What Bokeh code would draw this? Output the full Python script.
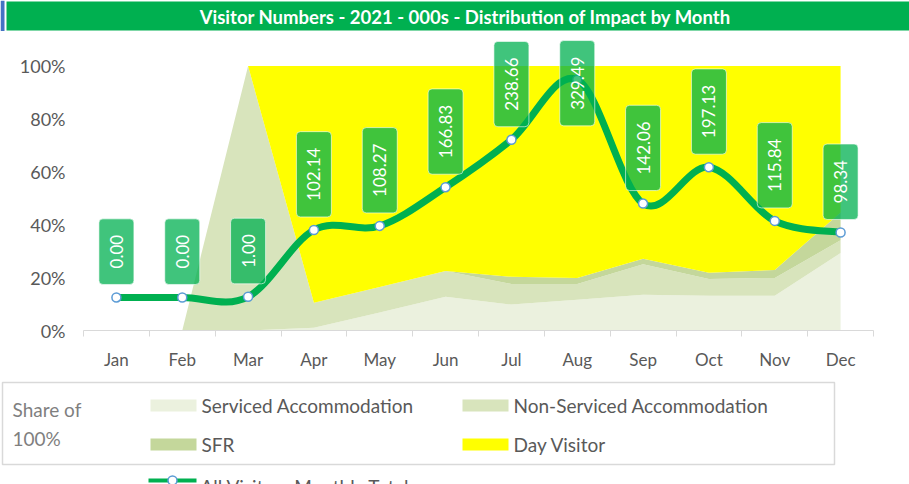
import numpy as np
from bokeh.plotting import figure
from bokeh.layouts import column
from bokeh.models import Range1d, FixedTicker, ColumnDataSource, NumeralTickFormatter
from bokeh.core.properties import value
from bokeh.embed import file_html
from bokeh.resources import INLINE

# ---------------- data ----------------
months = ["Jan", "Feb", "Mar", "Apr", "May", "Jun", "Jul", "Aug", "Sep", "Oct", "Nov", "Dec"]
# share of 100% (percent)
serviced = [0, 0, 0, 1.0, 6.8, 12.8, 9.8, 11.6, 13.5, 13.1, 13.1, 29.3]
non_serviced = [0, 0, 100, 9.5, 9.7, 9.7, 7.8, 6.0, 11.6, 6.4, 6.8, 4.8]
sfr = [0, 0, 0, 0, 0, 0, 2.7, 2.3, 2.0, 2.3, 3.0, 10.5]
day_visitor = [0, 0, 0, 89.5, 83.5, 77.5, 79.7, 80.1, 72.9, 78.2, 77.1, 55.4]
# All visitors monthly totals (000s)
totals = [0.00, 0.00, 1.00, 102.14, 108.27, 166.83, 238.66, 329.49, 142.06, 197.13, 115.84, 98.34]
y_ticks = [0, 0.2, 0.4, 0.6, 0.8, 1.0]

series_names = ["Serviced Accommodation", "Non-Serviced Accommodation", "SFR", "Day Visitor"]
series_colors = ["#EBF1DE", "#D8E4BC", "#C4D79B", "#FFFF00"]
title_text = "Visitor Numbers - 2021 - 000s - Distribution of Impact by Month"
line_name = "All Visitors Monthly Totals"
legend_title = ["Share of", "100%"]

GREEN = "#00B050"
FONT = "Lato"
W = 909
TITLE_H, MAIN_H, LEG_H = 31, 341, 112


def blank_fig(h, y0):
    f = figure(width=W, height=h, x_range=Range1d(0, W), y_range=Range1d(y0 + h, y0),
               x_axis_type=None, y_axis_type=None, output_backend="svg",
               toolbar_location=None, min_border=0, outline_line_color=None,
               background_fill_color="white", border_fill_color="white",
               frame_align=False)
    f.grid.visible = False
    return f


# ---------------- title bar ----------------
t = blank_fig(TITLE_H, 0)
t.quad(left=0, right=4, top=0, bottom=TITLE_H, fill_color="#4472C4", line_color=None)
t.quad(left=6, right=W, top=1, bottom=30, fill_color=GREEN, line_color=None)
t.text(x=[465], y=[16], text=[title_text], text_align="center", text_baseline="middle",
       text_color="white", text_font=value(FONT), text_font_style="bold",
       text_font_size="18.5px")

# ---------------- main chart ----------------
x = np.arange(len(months))
src = ColumnDataSource(dict(
    x=x,
    serviced=np.array(serviced) / 100.0,
    non_serviced=np.array(non_serviced) / 100.0,
    sfr=np.array(sfr) / 100.0,
    day=np.array(day_visitor) / 100.0,
))

p = figure(width=W, height=MAIN_H, x_range=Range1d(-0.5, 11.5), y_range=Range1d(0, 1.112),
           output_backend="svg", toolbar_location=None,
           min_border_left=83, min_border_right=36, min_border_top=5, min_border_bottom=39,
           outline_line_color=None, background_fill_color="white", border_fill_color="white",
           frame_align=False)
p.extra_y_ranges = {"y2": Range1d(-50, 394.9)}

p.varea_stack(stackers=["serviced", "non_serviced", "sfr", "day"], x="x",
              color=series_colors, source=src)

# smoothed line (Excel-like bezier smoothing, control points derived from the data)
tv = np.array(totals, dtype=float)
n = len(tv)
x0, y0, x1, y1, cx0, cy0, cx1, cy1 = [], [], [], [], [], [], [], []
for i in range(n - 1):
    pr = max(i - 1, 0)
    nx = min(i + 2, n - 1)
    x0.append(x[i]); y0.append(tv[i]); x1.append(x[i + 1]); y1.append(tv[i + 1])
    cx0.append(x[i] + (x[i + 1] - x[pr]) / 6.0)
    cy0.append(tv[i] + (tv[i + 1] - tv[pr]) / 6.0)
    cx1.append(x[i + 1] - (x[nx] - x[i]) / 6.0)
    cy1.append(tv[i + 1] - (tv[nx] - tv[i]) / 6.0)
p.bezier(x0=x0, y0=y0, x1=x1, y1=y1, cx0=cx0, cy0=cy0, cx1=cx1, cy1=cy1,
         line_color=GREEN, line_width=7, line_cap="round", y_range_name="y2")
p.scatter(x=x, y=tv, size=9, fill_color="white", line_color="#5B9BD5", line_width=1.5,
          y_range_name="y2")

# data labels
label_cap = 240.0
lab_src = ColumnDataSource(dict(x=x, y=np.minimum(tv, label_cap),
                                text=["%.2f" % v for v in totals]))
p.text(x="x", y="y", text="text", source=lab_src, y_range_name="y2",
       angle=np.pi / 2, text_align="left", text_baseline="middle", y_offset=-13,
       text_color="white", text_font=value(FONT), text_font_size="17px",
       background_fill_color=GREEN, background_fill_alpha=0.75,
       border_line_color="white", border_line_alpha=0.6, border_line_width=1,
       border_radius=4, padding=dict(left=16, right=16, top=11, bottom=11))

# axes
p.xgrid.visible = False
p.ygrid.visible = False
xa = p.xaxis[0]
xa.ticker = FixedTicker(ticks=list(x), minor_ticks=[i - 0.5 for i in range(len(months) + 1)])
xa.major_label_overrides = {int(i): m for i, m in zip(x, months)}
xa.major_tick_line_color = None
xa.major_tick_in = 0
xa.major_tick_out = 0
xa.minor_tick_line_color = "#D9D9D9"
xa.minor_tick_in = 0
xa.minor_tick_out = 6
xa.axis_line_color = "#D9D9D9"
xa.major_label_standoff = 12
xa.major_label_text_font = FONT
xa.major_label_text_font_size = "17px"
xa.major_label_text_color = "#595959"

ya = p.yaxis[0]
ya.ticker = FixedTicker(ticks=y_ticks)
ya.formatter = NumeralTickFormatter(format="0%")
ya.axis_line_color = None
ya.major_tick_line_color = None
ya.minor_tick_line_color = None
ya.major_tick_out = 0
ya.major_label_standoff = 18
ya.major_label_text_font = FONT
ya.major_label_text_font_size = "18px"
ya.major_label_text_color = "#595959"

# ---------------- legend (Excel style) ----------------
y_leg = TITLE_H + MAIN_H
lg = blank_fig(LEG_H, y_leg)
lg.quad(left=2, right=834, top=382, bottom=464, fill_color=None, line_color="#D9D9D9",
        line_width=1.5)
lg.text(x=[12, 12], y=[409, 438], text=legend_title, text_baseline="middle",
        text_color="#7F7F7F", text_font=value(FONT), text_font_size="19px")
sw_x = [150, 462, 150, 462]
sw_y = [405, 405, 444, 444]
lg.quad(left=sw_x, right=[v + 46 for v in sw_x], top=[v - 6 for v in sw_y],
        bottom=[v + 6 for v in sw_y], fill_color=series_colors, line_color=None)
lg.text(x=[v + 51 for v in sw_x], y=sw_y, text=series_names, text_baseline="middle",
        text_color="#595959", text_font=value(FONT), text_font_size="19px")
lg.segment(x0=[148], y0=[480], x1=[196], y1=[480], line_color=GREEN, line_width=4)
lg.scatter(x=[172], y=[480], size=9, fill_color="white", line_color="#5B9BD5",
           line_width=1.5)
lg.text(x=[200], y=[486], text=[line_name], text_baseline="middle",
        text_color="#595959", text_font=value(FONT), text_font_size="19px")

layout = column(t, p, lg, spacing=0)
open("out.html", "w").write(file_html(layout, INLINE))
